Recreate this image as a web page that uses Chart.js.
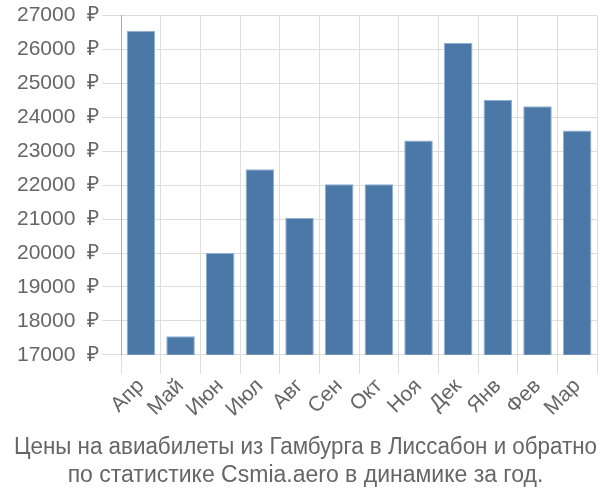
<!DOCTYPE html>
<html>
<head>
<meta charset="utf-8">
<script src="https://cdn.jsdelivr.net/npm/chart.js@4"></script>
<style>
    html, body { margin: 0; padding: 0; background: #fff; }
    #wrap { width: 600px; height: 500px; }
</style>
</head>
<body>
<div id="wrap"><canvas id="priceChart"></canvas></div>
<script>
const months = ["Апр", "Май", "Июн", "Июл", "Авг", "Сен", "Окт", "Ноя", "Дек", "Янв", "Фев", "Мар"];
const prices = [26550, 17550, 20000, 22470, 21030, 22030, 22030, 23320, 26190, 24520, 24330, 23610];
const titleLines = [
    "Цены на авиабилеты из Гамбурга в Лиссабон и обратно",
    "по статистике Csmia.aero в динамике за год."
];
const fontName = "'Liberation Sans', Arial, sans-serif";

const ctx = document.getElementById("priceChart").getContext("2d");
const priceChart = new Chart(ctx, {
    type: "bar",
    data: {
        labels: months,
        datasets: [{
            data: prices,
            backgroundColor: "#4c78a8",
            borderColor: "#8fb0d3",
            borderWidth: 1,
            categoryPercentage: 0.72,
            barPercentage: 1
        }]
    },
    options: {
        responsive: true,
        maintainAspectRatio: false,
        animation: false,
        layout: { padding: { left: 14, right: 3, top: 4, bottom: 0 } },
        plugins: {
            legend: { display: false },
            tooltip: { enabled: false },
            title: {
                display: true,
                position: "bottom",
                text: titleLines,
                color: "#666",
                font: { family: fontName, size: 23, weight: "normal", lineHeight: 1.2 },
                padding: { top: 12, bottom: 11 }
            }
        },
        scales: {
            x: {
                grid: { color: "#dddddd", lineWidth: 1, tickLength: 19, offset: true },
                border: { color: "#dddddd" },
                ticks: {
                    color: "#666",
                    autoSkip: false,
                    minRotation: 45,
                    maxRotation: 45,
                    padding: 0,
                    font: { family: fontName, size: 21 }
                }
            },
            y: {
                min: 17000,
                max: 27000,
                grid: { color: "#dddddd", lineWidth: 1, tickLength: 19 },
                border: { color: "#aaaaaa" },
                ticks: {
                    stepSize: 1000,
                    color: "#666",
                    padding: 3,
                    font: { family: fontName, size: 21 },
                    callback: function(value) {
                        return value + "  ₽";
                    }
                }
            }
        }
    }
});
</script>
</body>
</html>
